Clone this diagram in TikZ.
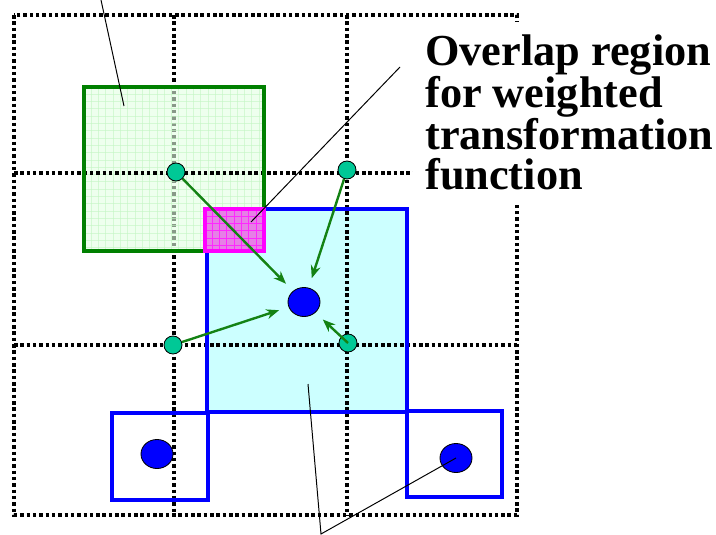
\documentclass[tikz,border=0pt]{standalone}
\usepackage{fontspec}
\setmainfont{Liberation Serif}
\usetikzlibrary{shapes.geometric,arrows.meta}
\definecolor{tileGreen}{RGB}{0,128,0}
\definecolor{tileGreenFill}{RGB}{228,255,228}
\definecolor{tileGreenMesh}{RGB}{196,245,196}
\definecolor{tileCyanFill}{RGB}{204,255,255}
\definecolor{overlapFill}{RGB}{230,128,230}
\definecolor{overlapMesh}{RGB}{255,40,255}
\definecolor{overlapEdge}{RGB}{255,0,255}
\definecolor{ctrlTeal}{RGB}{0,200,150}
\definecolor{pullGreen}{RGB}{20,130,20}
\begin{document}
\begin{tikzpicture}[x=0.025cm,y=-0.025cm,
  gridline/.style={line width=2.5pt,dash pattern=on 2.5pt off 2pt},
  ctrlpt/.style={circle,draw=black,line width=0.6pt,fill=ctrlTeal,minimum size=0.45cm,inner sep=0pt},
  blob/.style={ellipse,draw=black,line width=0.6pt,fill=blue,minimum width=0.8cm,minimum height=0.725cm,inner sep=0pt},
  pull/.style={-{Stealth[length=9pt,width=7pt]},draw=pullGreen,line width=1.7pt,shorten >=0.25cm},
  callout/.style={draw=black,line width=0.7pt}]
\useasboundingbox (0,0) rectangle (716,534);
\fill[white] (0,0) rectangle (716,534);
\fill[tileCyanFill] (207,209) rectangle (407,412);
\draw[gridline] (14,15) rectangle (517,515);
\draw[gridline] (174,15) -- (174,515);
\draw[gridline] (347,15) -- (347,515);
\fill[tileGreenFill,fill opacity=0.6] (84,87) rectangle (264,251);
\foreach \x in {91.3,98.6,...,262} \draw[tileGreenMesh,line width=0.6pt,opacity=0.6] (\x,87) -- (\x,251);
\foreach \y in {94.3,101.6,...,250} \draw[tileGreenMesh,line width=0.6pt,opacity=0.6] (84,\y) -- (264,\y);
\draw[gridline] (14,173) -- (517,173);
\draw[gridline] (14,345) -- (517,345);
\draw[tileGreen,line width=2.8pt] (84,87) rectangle (264,251);
\draw[blue,line width=2.8pt] (207,209) rectangle (407,412);
\draw[blue,line width=2.8pt] (112,413) rectangle (208,500);
\draw[blue,line width=2.8pt] (407,411) rectangle (502,497);
\fill[overlapFill] (205,209) rectangle (264,251);
\foreach \x in {212.3,219.6,...,263} \draw[overlapMesh,line width=0.6pt] (\x,209) -- (\x,251);
\foreach \y in {216.3,223.6,...,250} \draw[overlapMesh,line width=0.6pt] (205,\y) -- (264,\y);
\draw[overlapEdge,line width=3.5pt] (205,209) rectangle (264,251);
\node[blob] (ptMid) at (304,302) {};
\node[blob] (ptLeft) at (157,454) {};
\node[blob] (ptRight) at (456,458) {};
\node[ctrlpt] (ctrlNW) at (176,172) {};
\node[ctrlpt] (ctrlNE) at (347,170) {};
\node[ctrlpt] (ctrlSW) at (173,345) {};
\node[ctrlpt] (ctrlSE) at (348,343) {};
\draw[pull] (ctrlNW) -- (ptMid);
\draw[pull] (ctrlNE) -- (ptMid);
\draw[pull] (ctrlSW) -- (ptMid);
\draw[pull] (ctrlSE.center) -- (ptMid);
\node[anchor=north west,fill=white,inner sep=0.3cm,align=left,font=\fontsize{31.5}{28.5}\selectfont\bfseries] (overlapText) at (413,22) {Overlap region\\for weighted\\transformation\\function};
\coordinate (greenEnd) at (101,0);
\coordinate (greenTip) at (124,106);
\coordinate (overlapStart) at (400,67);
\coordinate (overlapTip) at (251,222);
\coordinate (cyanTip) at (308,384);
\coordinate (forkPt) at (321,534);
\draw[callout] (greenEnd) -- (greenTip);
\draw[callout] (overlapStart) -- (overlapTip);
\draw[callout] (cyanTip) -- (forkPt) -- (ptRight.center);
\end{tikzpicture}
\end{document}
